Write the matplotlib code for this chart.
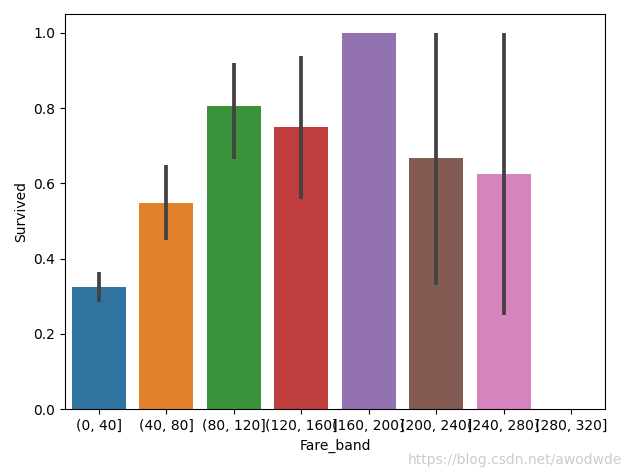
import matplotlib.pyplot as plt
import numpy as np

bands = ["(0, 40]", "(40, 80]", "(80, 120]", "(120, 160]", "(160, 200]",
         "(200, 240]", "(240, 280]", "(280, 320]"]
survived = [0.325, 0.548, 0.805, 0.75, 1.0, 0.667, 0.625, np.nan]
ci_low = [0.285, 0.45, 0.665, 0.56, np.nan, 0.33, 0.25, np.nan]
ci_high = [0.365, 0.65, 0.92, 0.94, np.nan, 1.0, 1.0, np.nan]
colors = ["#3274a1", "#e1812c", "#3a923a", "#c03d3e", "#9372b2",
          "#845b53", "#d684bd", "#7f7f7f"]

fig = plt.figure(figsize=(6.32, 4.72), dpi=100)
ax = fig.add_axes([0.103, 0.133, 0.854, 0.837])

x = np.arange(len(bands))
ax.bar(x, np.nan_to_num(survived), width=0.8, color=colors)
ax.vlines(x, ci_low, ci_high, color="#424242", linewidth=2.7)

ax.set_xlim(-0.5, len(bands) - 0.5)
ax.set_ylim(0, 1.05)
ax.set_xticks(x)
ax.set_xticklabels(bands)
ax.set_yticks(np.arange(0, 1.01, 0.2))
ax.set_xlabel("Fare_band")
ax.set_ylabel("Survived")

fig.text(0.985, 0.01, "https://blog.csdn.net/awodwde", ha="right", va="bottom",
         color="#cccccc", fontsize=10)

fig.savefig("out.png", dpi=100)
